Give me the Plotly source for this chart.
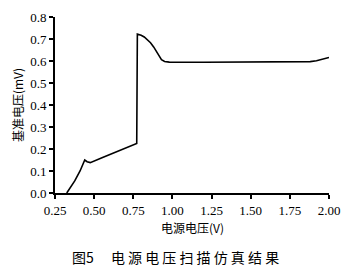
import plotly.graph_objects as go

supply_v = [0.325, 0.35, 0.376, 0.41, 0.44, 0.455, 0.475, 0.55, 0.65, 0.772,
            0.776, 0.785, 0.80, 0.82, 0.84, 0.86, 0.88, 0.90, 0.915, 0.93,
            0.95, 0.98, 1.2, 1.5, 1.8, 1.88, 1.92, 1.96, 2.0]
ref_v = [0.0, 0.025, 0.055, 0.10, 0.15, 0.142, 0.138, 0.160, 0.190, 0.225,
         0.722, 0.721, 0.717, 0.709, 0.698, 0.683, 0.664, 0.640, 0.620, 0.606,
         0.598, 0.595, 0.594, 0.594, 0.594, 0.597, 0.601, 0.607, 0.616]

x_ticks = [0.25, 0.50, 0.75, 1.00, 1.25, 1.50, 1.75, 2.00]
x_ticktext = ["0.25", "0.50", "0.75", "1.00", "1.25", "1.50", "1.75", "2.00"]
y_ticks = [0.0, 0.1, 0.2, 0.3, 0.4, 0.5, 0.6, 0.7, 0.8]

serif = "'Liberation Serif', 'Times New Roman', serif"
cjk = "'Noto Sans CJK SC', sans-serif"

fig = go.Figure()
fig.add_trace(go.Scatter(x=supply_v, y=ref_v, mode="lines",
                         line=dict(color="black", width=1.6),
                         showlegend=False, hoverinfo="skip"))

fig.update_layout(
    width=350, height=271,
    margin=dict(l=55, r=18, t=10, b=78),
    paper_bgcolor="white", plot_bgcolor="white",
    font=dict(family=serif, size=12, color="black"),
    xaxis=dict(range=[0.25, 2.0], tickvals=x_ticks, ticktext=x_ticktext,
               showline=True, linecolor="black", linewidth=2,
               ticks="outside", ticklen=4, tickwidth=1.5, tickcolor="black",
               showgrid=False, zeroline=False,
               tickfont=dict(family=serif, size=13)),
    yaxis=dict(range=[0, 0.8], tickvals=y_ticks, tickformat=".1f",
               showline=True, linecolor="black", linewidth=2,
               ticks="outside", ticklen=4, tickwidth=1.5, tickcolor="black",
               showgrid=False, zeroline=False,
               tickfont=dict(family=serif, size=13),
               title=dict(text="基准电压(mV)", font=dict(family=cjk, size=12),
                          standoff=4)),
)

fig.add_annotation(text="电源电压(V)", xref="paper", yref="paper",
                   x=0.5, y=0, yshift=-34, showarrow=False,
                   xanchor="center", yanchor="middle",
                   font=dict(family=cjk, size=12))
fig.add_annotation(text="图5　 电 源 电 压 扫 描 仿 真 结 果", xref="paper", yref="paper",
                   x=0.44, y=0, yshift=-64, showarrow=False,
                   xanchor="center", yanchor="middle",
                   font=dict(family=cjk, size=14))

fig.write_html("out.html")
